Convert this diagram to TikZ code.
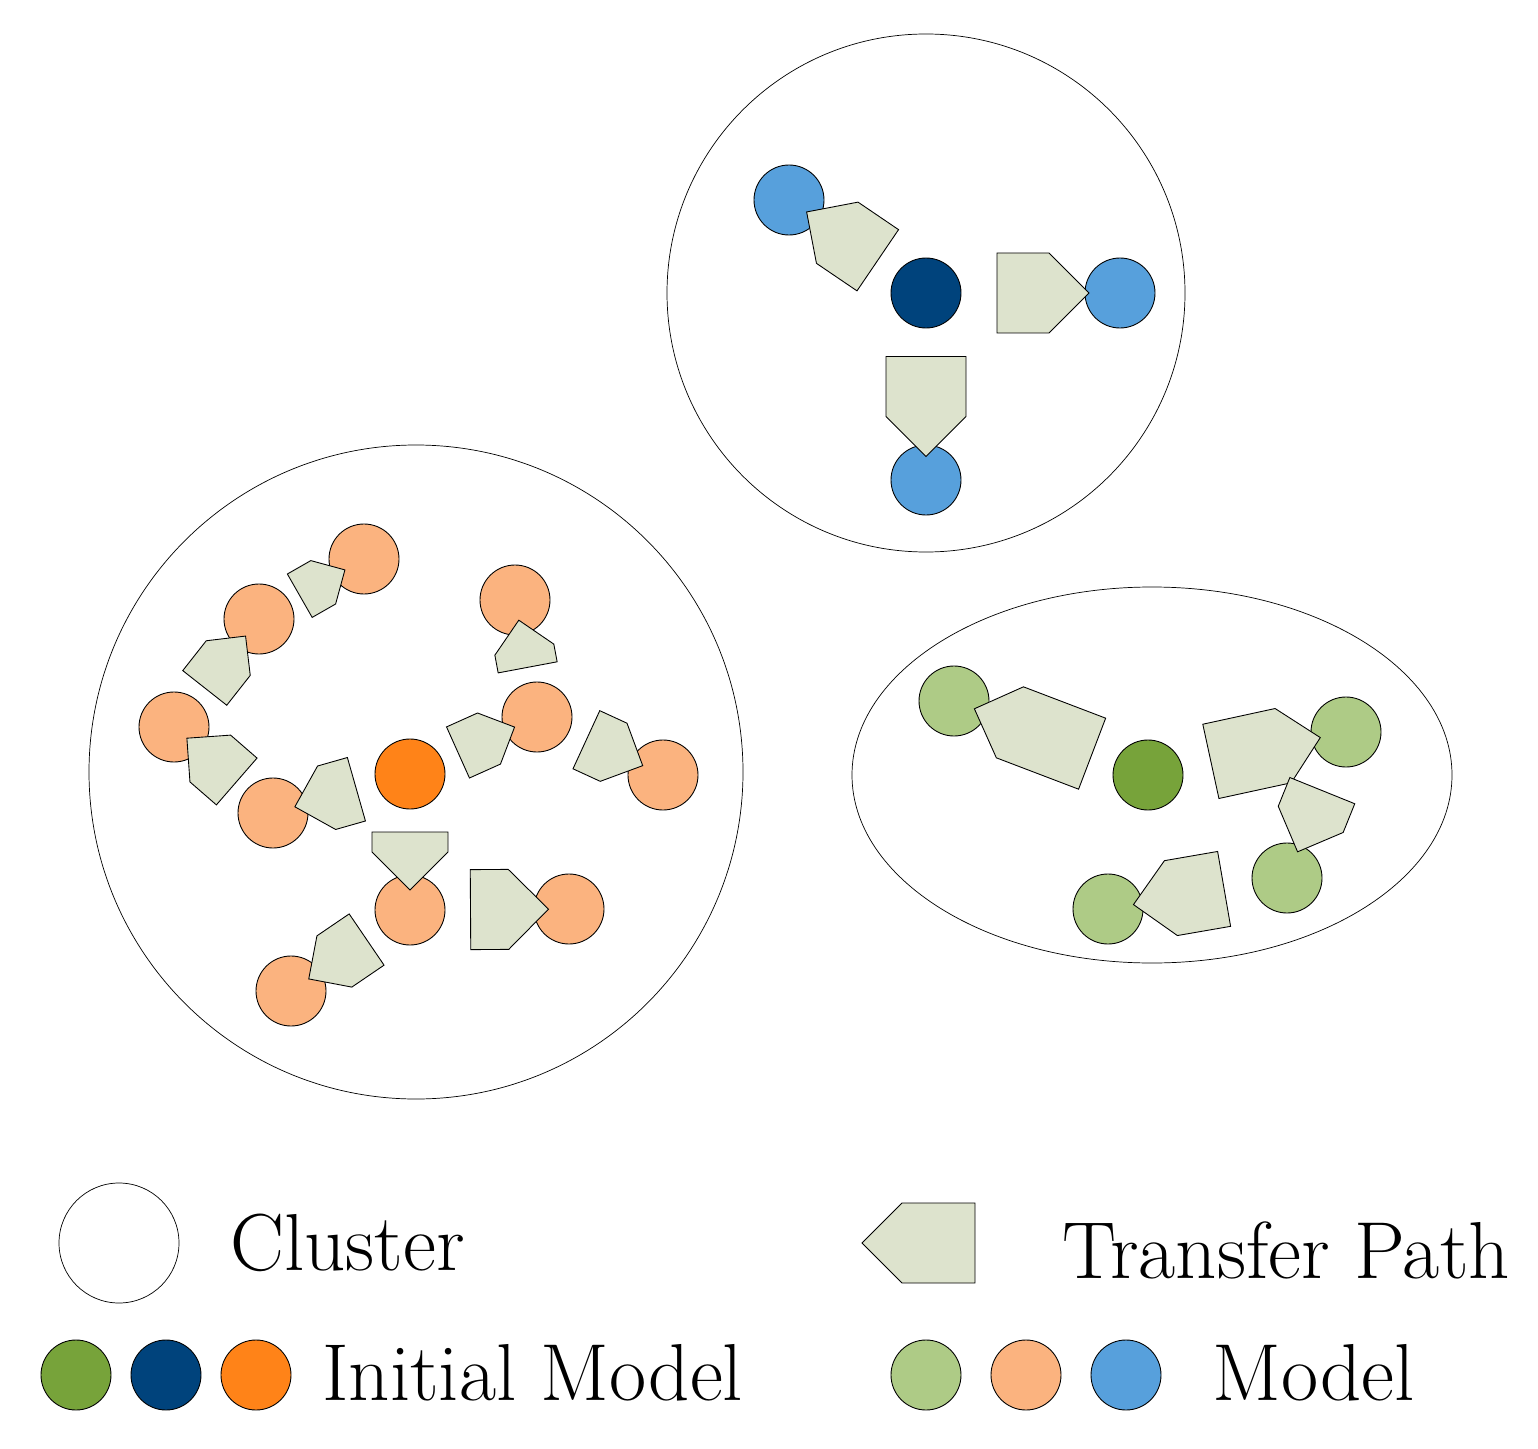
\documentclass[tikz,border=0pt]{standalone}
\usetikzlibrary{shapes.arrows,shapes.geometric}
\definecolor{dg}{HTML}{77A33A}
\definecolor{db}{HTML}{00437C}
\definecolor{do}{HTML}{FF8318}
\definecolor{lg}{HTML}{AECB86}
\definecolor{lo}{HTML}{FBB37F}
\definecolor{lb}{HTML}{57A0DC}
\definecolor{arrowc}{HTML}{DDE3CD}
\begin{document}
\begin{tikzpicture}[x=0.02cm,y=-0.02cm,
  m/.style={circle,draw,line width=0.5pt,minimum size=70*0.02cm,inner sep=0,fill=#1},
  ta/.style n args={3}{single arrow,draw,fill=arrowc,line width=0.5pt,
     single arrow head extend=0pt,minimum height=#1*0.02cm,minimum width=#2*0.02cm,
     inner sep=0pt,text height=#3*0.02cm,text depth=0pt,text width=0pt},
  lab/.style={anchor=west,font=\fontsize{46}{54}\selectfont,inner sep=0}]
\useasboundingbox (0,0) rectangle (1538,1449);
% clusters
\node[circle,draw,minimum size=518*0.02cm,inner sep=0] (c1) at (926,293) {};
\node[circle,draw,minimum size=654*0.02cm,inner sep=0] (c2) at (416,772) {};
\node[ellipse,draw,minimum width=600*0.02cm,minimum height=376*0.02cm,inner sep=0] (c3) at (1152,775) {};
% blue
\node[m=db] (b0) at (926,293) {};
\node[m=lb] (b1) at (789,200) {};
\node[m=lb] (b2) at (1120,293) {};
\node[m=lb] (b3) at (926,480) {};
\path (b0) -- (b1) node[midway,sloped,allow upside down,ta={86}{74}{26}]{};
\path (b0) -- (b2) node[midway,sloped,allow upside down,ta={92}{80}{28}]{};
\path (b0) -- (b3) node[midway,sloped,allow upside down,ta={100}{80}{28}]{};
% orange
\node[m=do] (o0) at (410,774) {};
\node[m=lo] (oA) at (273,813) {};
\node[m=lo] (oB) at (174,727) {};
\node[m=lo] (oC) at (259,619) {};
\node[m=lo] (oD) at (364,559) {};
\node[m=lo] (oE) at (537,717) {};
\node[m=lo] (oF) at (515,600) {};
\node[m=lo] (oG) at (663,775) {};
\node[m=lo] (oH) at (410,910) {};
\node[m=lo] (oI) at (569,909) {};
\node[m=lo] (oJ) at (291,991) {};
\path (o0) -- (oA) node[midway,sloped,allow upside down,ta={64}{66}{24}]{};
\path (oA) -- (oB) node[midway,sloped,allow upside down,ta={66}{62}{22}]{};
\path (oB) -- (oC) node[midway,sloped,allow upside down,ta={66}{56}{22}]{};
\path (oC) -- (oD) node[midway,sloped,allow upside down,ta={52}{50}{18}]{};
\path (o0) -- (oE) node[midway,sloped,allow upside down,ta={62}{56}{22}]{};
\path (oE) -- (oF) node[midway,sloped,allow upside down,ta={48}{60}{26}]{};
\path (oE) -- (oG) node[midway,sloped,allow upside down,ta={62}{64}{24}]{};
\path (o0) -- (oH) node[midway,sloped,allow upside down,ta={58}{76}{27}]{};
\path (oH) -- (oI) node[midway,sloped,allow upside down,ta={78}{80}{27}]{};
\path (oH) -- (oJ) node[midway,sloped,allow upside down,ta={70}{62}{24}]{};
% green
\node[m=dg] (g0) at (1148,775) {};
\node[m=lg] (g1) at (954,701) {};
\node[m=lg] (g2) at (1346,732) {};
\node[m=lg] (g3) at (1287,878) {};
\node[m=lg] (g4) at (1108,909) {};
\path (g0) -- (g1) node[midway,sloped,allow upside down,ta={126}{76}{28}]{};
\path (g0) -- (g2) node[midway,sloped,allow upside down,ta={112}{76}{28}]{};
\path (g2) -- (g3) node[midway,sloped,allow upside down,ta={66}{70}{26}]{};
\path (g3) -- (g4) node[midway,sloped,allow upside down,ta={92}{76}{28}]{};
% legend
\node[circle,draw,minimum size=120*0.02cm,inner sep=0] (lc) at (119,1243) {};
\node[lab] (tc) at (230,1243) {Cluster};
\coordinate (la1) at (995,1243);
\coordinate (la2) at (882,1243);
\path (la1) -- (la2) node[midway,sloped,allow upside down,ta={113}{80}{28}]{};
\node[lab] (tt) at (1062,1250) {Transfer Path};
\node[m=dg] (l1) at (76,1375) {};
\node[m=db] (l2) at (166,1375) {};
\node[m=do] (l3) at (256,1375) {};
\node[lab] (ti) at (322,1373) {Initial Model};
\node[m=lg] (l4) at (926,1375) {};
\node[m=lo] (l5) at (1026,1375) {};
\node[m=lb] (l6) at (1126,1375) {};
\node[lab] (tm) at (1212,1373) {Model};
\end{tikzpicture}
\end{document}
